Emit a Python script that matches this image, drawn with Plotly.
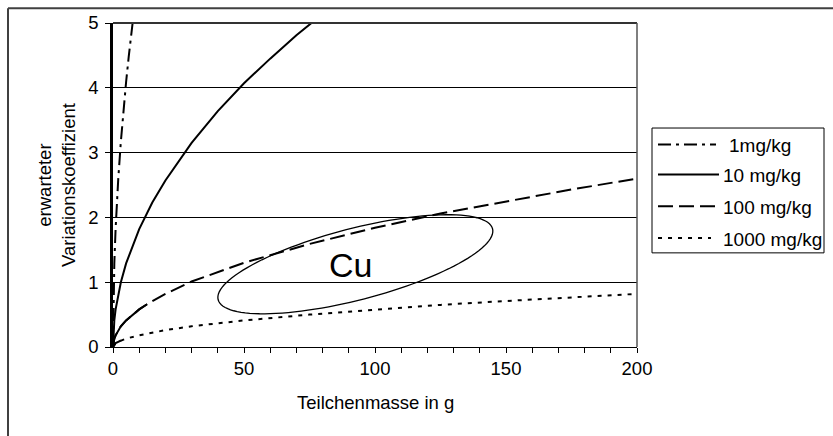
import numpy as np
import plotly.graph_objects as go

# ---- data ----
series_names = ["1mg/kg", "10 mg/kg", "100 mg/kg", "1000 mg/kg"]

x_1mg = [0, 0.1, 0.25, 0.5, 1, 1.5, 2, 3, 4, 5, 6, 7, 8]
y_1mg = [0, 0.58, 0.92, 1.29, 1.83, 2.24, 2.59, 3.17, 3.66, 4.09, 4.48, 4.84, 5.18]

x_10mg = [0, 0.1, 0.25, 0.5, 1, 2, 3, 5, 7.5, 10, 15, 20, 30, 40, 50, 60, 70, 80]
y_10mg = [0, 0.18, 0.29, 0.41, 0.58, 0.81, 1.0, 1.29, 1.57, 1.82, 2.23, 2.57, 3.15, 3.64, 4.07, 4.45, 4.81, 5.14]

x_100mg = [0, 0.25, 0.5, 1, 2, 3, 5, 7.5, 10, 13, 20, 30, 40, 50, 75, 100, 125, 150, 175, 200]
y_100mg = [0, 0.09, 0.13, 0.18, 0.26, 0.32, 0.41, 0.50, 0.58, 0.66, 0.82, 1.01, 1.16, 1.30, 1.59, 1.84, 2.06, 2.25, 2.43, 2.60]

x_1000mg = [0, 0.5, 1, 2, 3, 5, 10, 20, 30, 50, 75, 100, 125, 150, 175, 200]
y_1000mg = [0, 0.04, 0.06, 0.08, 0.10, 0.13, 0.18, 0.26, 0.32, 0.41, 0.50, 0.58, 0.65, 0.71, 0.77, 0.82]

x_ticks = [0, 50, 100, 150, 200]
y_ticks = [0, 1, 2, 3, 4, 5]

# ---- layout geometry (pixels) ----
W, H = 833, 436
PL, PR, PT, PB = 113, 637, 20, 347
FONT = "Arial, Liberation Sans, sans-serif"
FS = 18.5


def px(xp):
    return (xp - PL) / (PR - PL)


def py(yp):
    return (PB - yp) / (PB - PT)


dash_1 = "13px,5px,3px,5px"
dash_100 = "15px,6px"
dash_1000 = "4px,6px"
LW = 2

fig = go.Figure()
fig.add_trace(go.Scatter(x=x_1mg, y=y_1mg, mode="lines", name=series_names[0],
                         line=dict(color="black", width=LW, dash=dash_1), showlegend=False))
fig.add_trace(go.Scatter(x=x_10mg, y=y_10mg, mode="lines", name=series_names[1],
                         line=dict(color="black", width=LW), showlegend=False))
fig.add_trace(go.Scatter(x=x_100mg, y=y_100mg, mode="lines", name=series_names[2],
                         line=dict(color="black", width=LW, dash=dash_100), showlegend=False))
fig.add_trace(go.Scatter(x=x_100mg[:10], y=y_100mg[:10], mode="lines", hoverinfo="skip",
                         line=dict(color="black", width=LW), showlegend=False))
fig.add_trace(go.Scatter(x=x_1000mg, y=y_1000mg, mode="lines", name=series_names[3],
                         line=dict(color="black", width=LW, dash=dash_1000), showlegend=False))
fig.add_trace(go.Scatter(x=x_1000mg[:5], y=y_1000mg[:5], mode="lines", hoverinfo="skip",
                         line=dict(color="black", width=LW), showlegend=False))

shapes = []
# ellipse "Cu" (geometry in pixels, converted to data units)
xs = (PR - PL) / 200.0
ys = (PB - PT) / 5.0
cx, cy = 92.5, 1.277
a_px, b_px, th = 141.8, 36.0, np.deg2rad(14.65)
t = np.linspace(0, 2 * np.pi, 121)
ex = cx + (a_px * np.cos(th) * np.cos(t) - b_px * np.sin(th) * np.sin(t)) / xs
ey = cy + (a_px * np.sin(th) * np.cos(t) + b_px * np.cos(th) * np.sin(t)) / ys
path = "M " + " L ".join(f"{X:.3f},{Y:.4f}" for X, Y in zip(ex, ey)) + " Z"
shapes.append(dict(type="path", path=path, xref="x", yref="y",
                   line=dict(color="black", width=1.3)))

# plot area border (top, right)
shapes.append(dict(type="line", xref="paper", yref="paper", x0=0, x1=1, y0=1, y1=1,
                   line=dict(color="#333333", width=2)))
shapes.append(dict(type="line", xref="paper", yref="paper", x0=1, x1=1, y0=0, y1=1,
                   line=dict(color="#555555", width=1.5)))
# outer chart border (top and left visible)
shapes.append(dict(type="line", xref="paper", yref="paper", x0=px(8), x1=px(W + 20),
                   y0=py(5), y1=py(5), line=dict(color="#404040", width=2)))
shapes.append(dict(type="line", xref="paper", yref="paper", x0=px(8), x1=px(8),
                   y0=py(5), y1=py(H + 20), line=dict(color="#404040", width=2)))

# legend box
shapes.append(dict(type="rect", xref="paper", yref="paper", x0=px(652), x1=px(824),
                   y0=py(252), y1=py(126), line=dict(color="black", width=1),
                   fillcolor="white"))
leg_y = [142.5, 173, 205, 237]
leg_dash = [dash_1, "solid", dash_100, dash_1000]
leg_text_x = [727, 721, 721, 721]
leg_end = [716, 719, 715, 711]
annotations = []
for name, yy, d, tx, xe in zip(series_names, leg_y, leg_dash, leg_text_x, leg_end):
    shapes.append(dict(type="line", xref="paper", yref="paper", x0=px(658), x1=px(xe),
                       y0=py(yy), y1=py(yy), line=dict(color="black", width=LW, dash=d)))
    annotations.append(dict(xref="paper", yref="paper", x=px(tx), y=py(yy + 1),
                            text=name, showarrow=False, xanchor="left", yanchor="middle",
                            font=dict(family=FONT, size=19, color="black")))

annotations.append(dict(xref="x", yref="y", x=90.8, y=1.27, text="Cu", showarrow=False,
                        xanchor="center", yanchor="middle",
                        font=dict(family=FONT, size=34, color="black")))
annotations.append(dict(xref="paper", yref="paper", x=0.5, y=py(403), text="Teilchenmasse in g",
                        showarrow=False, xanchor="center", yanchor="middle",
                        font=dict(family=FONT, size=FS, color="black")))
annotations.append(dict(xref="paper", yref="paper", x=px(56), y=0.5,
                        text="erwarteter<br>Variationskoeffizient", textangle=-90,
                        showarrow=False, xanchor="center", yanchor="middle",
                        font=dict(family=FONT, size=FS, color="black")))

fig.update_layout(
    width=W, height=H, autosize=False,
    margin=dict(l=PL, r=W - PR, t=PT, b=H - PB, pad=0),
    paper_bgcolor="white", plot_bgcolor="white",
    showlegend=False,
    shapes=shapes, annotations=annotations,
    font=dict(family=FONT, size=FS, color="black"),
    xaxis=dict(range=[0, 200], tickvals=x_ticks, ticks="outside", ticklen=5,
               tickcolor="black", tickwidth=1, showline=True, linecolor="black",
               linewidth=1.3, showgrid=False, zeroline=False,
               minor=dict(dtick=10, ticks="outside", ticklen=5, tickcolor="black",
                          tickwidth=1, showgrid=False),
               tickfont=dict(family=FONT, size=FS, color="black")),
    yaxis=dict(range=[0, 5], tickvals=y_ticks, ticks="outside", ticklen=5,
               tickcolor="black", tickwidth=1, showline=True, linecolor="black",
               linewidth=2.5, showgrid=True, gridcolor="black", gridwidth=1,
               zeroline=False, ticklabelstandoff=3,
               tickfont=dict(family=FONT, size=FS, color="black")),
)

fig.write_html("out.html", config={"displayModeBar": False},
               post_script="document.body.style.margin='0';document.body.style.overflow='hidden';")
